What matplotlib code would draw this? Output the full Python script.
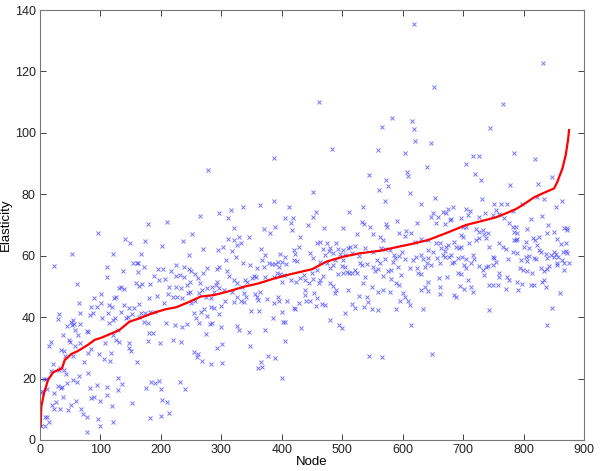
import matplotlib
matplotlib.use("Agg")
import matplotlib.pyplot as plt
import numpy as np

plt.rcParams['font.family'] = ['Liberation Sans', 'DejaVu Sans']

# Blue scatter points (node, elasticity), read region by region
blue_a = [(96,67.5),(53,60.6),(23,56.7),(61,50.7),(111,53.2),(111,56.2),(101,47.4),(90,46.1),(101,44.5),(85,43.4),
          (95,43.2),(82,40.7),(88,41.3),(103,39.8),(64,44.5),(67,41.5),(31,41.0),(29,39.4),(55,39.1),(51,38.5),
          (57,37.8),(53.5,37.4),(45,37.1),(66,37.8),(58,35.8),(77,35.6),(80,35.3),(38,34.1),(63,34.2),(48,32.6),
          (50,31.8),(67,31.5),(58,30.6),(18,32.0),(15,30.7),(35,29.3),(40,29.0),(85,29.5),(79,28.4),(107,31.7),
          (98,28.0),(73,25.4),(106,26.3),(55,27.4),(41,27.4),(21,24.8),(19,22.6),(10.5,19.9),(32.5,23.4),(31,22.8),
          (40,22.8),(43.6,21.5),(45,18.5),(64,20.9),(62,19.0),(55,19.5),(79,21.7),(6,19.8),(3.3,15.8),(1.1,15.2),
          (12,16.5),(29,17.6),(34,16.8),(37,17.2),(23,15.2),(27,12.3),(20,11.4),(22.6,10.0),(33,10.2),(37.5,14.1),
          (52,11.4),(60,12.8),(46,9.8),(68,10.2),(71,8.4),(78,7.6),(82,17.0),(95,17.9),(85,13.6),(89,14.1),
          (99,12.8),(111,14.6),(111,17.4),(7.7,7.6),(12,7.4),(15,6.0),(7.7,4.4),(2.2,4.7),(78,2.5),(96,6.8),(100,4.6)]

blue_b = [(179.2,70.3),(210.1,71.1),(141.2,65.3),(149.5,64.2),(173.7,64.9),(201.3,63.3),(121.3,60.4),(166.6,60.7),
          (153.3,57.5),(160,57.5),(162.1,57.7),(136.8,55.1),(162.7,54.6),(172.6,56.4),(194.7,55.7),(203,55.6),
          (216.7,55.1),(189.2,53.4),(197.4,52.1),(206.8,52.4),(182,50.7),(168.8,50.7),(159.4,51.2),(163.2,50.2),
          (134,49.7),(139.5,49.1),(131.3,49.6),(214,49.7),(225,49.9),(211.2,47.5),(219.5,46.7),(125.7,46.5),
          (123,46.1),(180.9,46.1),(193,47.0),(205.7,44.7),(114.7,44.0),(119.1,43.4),(138.4,44.0),(147.8,43.1),
          (164.4,44.3),(156.1,42.9),(112,41.5),(134,41.8),(142.3,39.6),(145,40.2),(152.2,41.0),(167.1,41.5),
          (174.3,41.3),(182,41.6),(190.8,41.8),(164.4,40.2),(120.2,39.1),(124.6,39.6),(114.7,38.0),(208.5,38.0),
          (223.9,37.5),(178.1,38.2),(172.6,38.3),(121.3,34.2),(128.5,35.8),(125.7,32.4),(131.3,32.0),(117.5,28.4),
          (147.8,31.5),(150.6,29.0),(146.7,30.1),(180.9,35.0),(187.5,34.8),(178.1,32.3),(198.5,31.7),(219.5,32.4),
          (160.5,25.5),(115.8,25.8),(128.5,20.3),(135.1,18.1),(128.5,16.3),(183.7,19.0),(190.8,18.5),(196.3,19.3),
          (200.2,16.5),(175.4,16.8),(152.2,12.0),(119.1,11.2),(201.9,13.0),(209.6,12.3),(182.6,7.1),(200.2,7.9),
          (214,8.7),(120.2,6.0)]

blue_c = [(278.5,87.9),(265.3,73.0),(296.2,73.8),(315.5,74.9),(335.9,75.8),(311,72.2),(321,68.9),(251.5,67.0),
          (236,64.9),(270.2,62.1),(295,61.9),(303.3,63.0),(311,65.3),(321,65.1),(329.2,66.0),(332,64.0),(326.5,63.5),
          (246.5,60.2),(318.2,61.5),(323.7,59.7),(307.2,58.6),(336.4,57.5),(225,57.0),(238.2,56.4),(246.5,55.6),
          (249.3,55.0),(255.9,54.1),(261.4,52.6),(270.2,54.3),(276.9,55.9),(292.3,55.6),(296.2,56.2),(310,55.1),
          (312.7,53.4),(321,52.1),(326.5,51.0),(334.8,49.9),(224.5,53.4),(231.6,53.7),(238.2,53.2),(248.2,51.6),
          (242.7,50.5),(232.7,49.4),(227.2,46.7),(235.5,46.1),(244.9,48.0),(248.2,48.1),(264.7,51.2),(268.6,48.8),
          (275.7,49.4),(285.1,49.9),(290.6,50.5),(293.4,51.6),(263.1,48.0),(282.4,46.1),(287.9,48.3),(296.2,49.4),
          (304.4,48.8),(318.2,48.3),(326.5,46.7),(332,45.4),(337.5,45.0),(321,45.0),(274.1,46.7),(255.9,45.4),
          (250.4,44.7),(305.5,45.4),(300,43.6),(287.9,42.9),(271.3,42.6),(283.5,43.4),(254.8,41.5),(266.9,41.8),
          (257.5,39.6),(296.2,41.0),(276.9,40.4),(281.3,37.8),(285.1,38.0),(235.5,36.9),(242.7,37.8),(263.1,38.0),
          (298.9,36.9),(326.5,37.1),(329.2,35.8),(274.1,34.5),(232.7,32.0),(254.8,28.8),(261.4,28.0),(259.2,26.9),
          (267.5,25.8),(301.7,31.3),(293.4,29.9),(283.5,24.6),(300.6,25.2),(231.1,19.0),(239.3,16.5)]

blue_d = [(386.6,91.7),(387.7,77.8),(364.5,76.5),(412.5,75.7),(405.9,72.2),(418,72.2),(415.8,70.8),(371.2,68.6),
          (388.2,69.5),(381.1,67.3),(416.9,68.4),(443.4,70.0),(430.7,66.2),(346.3,66.2),(366.2,62.1),(428,63.0),
          (372.8,60.2),(419.7,61.7),(422.4,60.5),(396.5,60.5),(404.8,59.7),(348,57.0),(378.3,57.5),(383.8,57.3),
          (389.4,57.3),(393.8,57.8),(400.4,58.1),(407.6,57.3),(396,56.4),(370.1,56.4),(359,55.9),(419.7,58.6),
          (425.2,58.3),(367.3,58.6),(353.5,53.4),(357.4,53.0),(350.7,52.7),(341.9,51.6),(339.7,52.1),(371.7,53.2),
          (386.6,53.2),(392.1,54.5),(397.6,54.1),(403.1,53.7),(415.3,52.1),(423.5,51.6),(430.7,52.7),(436.2,53.7),
          (439,52.1),(444.5,51.2),(400.4,51.6),(364.5,48.3),(356.3,47.4),(359,46.7),(360.7,45.6),(340.8,46.7),
          (337,47.8),(375.6,45.8),(393.8,46.5),(396,45.1),(400.4,41.8),(386.6,44.7),(408.7,45.4),(428,44.7),
          (439,48.9),(437.9,47.2),(447.3,45.1),(440.6,45.3),(422.4,42.6),(419.7,42.9),(361.8,42.0),(349.6,42.0),
          (372.8,35.8),(346.3,35.3),(385.5,39.6),(404.8,38.5),(401.5,38.5),(432.4,36.6),(405.9,32.3),(348,30.6),
          (377.2,27.4),(389.4,26.8),(366.2,25.4),(360.7,23.4),(367.3,23.9),(400.4,20.3)]

blue_e = [(461.6,110.1),(482.5,94.7),(559.8,94.4),(544.9,86.3),(561.4,81.4),(452.2,80.9),(533.8,76.0),(456.6,74.3),
          (511.8,74.1),(452.2,72.5),(532.2,71.1),(536,70.3),(546,69.5),(470.4,69.1),(501.9,68.9),(523.9,67.1),
          (550.4,67.0),(562.5,66.2),(458.8,64.0),(463.2,64.6),(474.3,64.0),(489.7,64.0),(468.8,62.1),(477.6,61.6),
          (479.8,62.4),(493.6,62.1),(500.7,61.9),(510.1,62.4),(512.9,62.9),(521.2,63.2),(537.7,62.6),(551.5,61.3),
          (446.7,60.8),(471.5,60.2),(485.3,60.8),(496.3,60.6),(504.6,60.2),(515.6,60.8),(528.3,60.0),(557,58.6),
          (562.5,57.7),(451.1,59.2),(463.2,58.1),(474.3,57.7),(488.1,58.6),(501.9,58.6),(529.4,57.5),(532.2,57.0),
          (540.5,57.2),(551.5,56.4),(479.8,56.1),(485.3,57.0),(499.1,56.7),(504.6,56.4),(508.5,54.8),(515.6,54.5),
          (521.2,55.4),(523.9,54.3),(457.7,55.4),(449.5,54.3),(468.8,53.4),(452.2,52.3),(463.2,52.1),(462.1,51.0),
          (493.6,54.1),(500.7,54.3),(511.8,54.5),(554.2,55.1),(559.8,55.6),(479.8,51.0),(484.2,50.1),(489.7,48.8),
          (488.1,47.8),(510.1,48.8),(537.7,53.2),(534.9,51.0),(548.7,49.9),(559.8,48.3),(453.3,47.8),(457.7,46.1),
          (528.3,46.9),(541.6,46.7),(543.2,45.0),(466,44.3),(471.5,44.0),(456.6,43.7),(515.6,44.3),(521.2,42.9),
          (536,43.4),(548.7,42.6),(559.8,42.3),(504.6,41.3),(479.8,39.1),(495.2,37.5),(499.1,36.6),(544.9,27.4)]

blue_f = [(618.2,135.6),(651.9,114.8),(582.9,104.9),(616,103.9),(565.8,102.0),(618.8,101.2),(619.9,97.4),(647.4,96.8),
          (603.3,93.6),(640.3,89.0),(607.2,87.3),(608.8,85.9),(571.9,84.6),(575.7,82.7),(612.7,80.3),(654.1,78.9),
          (629.8,76.7),(570.2,77.8),(650.2,74.0),(666.7,74.3),(646.3,72.7),(658.5,72.7),(672.3,73.8),(573,70.3),
          (574.6,69.4),(591.2,71.3),(624.3,70.5),(655.7,70.5),(669.5,70.3),(606.1,68.1),(613.2,67.3),(593.4,67.3),
          (603.3,66.4),(567.5,65.1),(630.9,65.6),(563.6,62.4),(570.2,62.1),(578.5,61.8),(619.9,64.5),(641.9,65.1),
          (655.7,64.0),(661.2,64.2),(672.3,62.9),(585.7,60.2),(587.9,59.4),(593.4,59.9),(598.9,61.3),(603.3,58.8),
          (622.6,59.7),(629.8,60.2),(641.9,61.8),(650.2,61.1),(664,62.4),(669.5,61.5),(570.2,58.8),(584,58.0),
          (617.1,58.6),(633.7,58.8),(641.9,59.1),(657.4,59.4),(666.7,60.2),(581.3,55.3),(592.3,56.4),(611.6,55.9),
          (624.3,55.9),(636.4,56.4),(640.8,57.7),(647.4,56.9),(661.2,57.5),(669.5,59.7),(567.5,53.4),(575.7,55.1),
          (581.3,52.3),(589.5,51.0),(593.4,50.4),(597.8,53.7),(625.4,54.5),(630.9,54.2),(641.9,51.5),(660.1,52.9),
          (673.4,53.2),(567.5,49.0),(578.5,48.3),(629.8,49.0),(636.4,49.9),(641.9,48.6),(661.2,49.9),(662.3,47.5),
          (600.6,47.9),(603.3,46.6),(608.8,45.3),(611.6,43.9),(595,45.2),(588.4,42.5),(633.7,42.5),(614.4,37.4),
          (565.8,27.1),(649.1,28.0)]

blue_g = [(765.5,109.3),(745,101.5),(784.8,93.6),(716.9,92.6),(726.9,92.5),(704.8,89.8),(720.2,86.5),(729.6,84.7),
          (778.1,83.0),(730.7,78.5),(750.6,76.9),(762.7,76.9),(772.1,76.7),(682.7,75.7),(674.5,75.2),(704.8,75.1),
          (711.4,74.4),(736.8,73.8),(754.4,74.9),(759.9,73.6),(782,74.4),(678.3,71.6),(680,71.9),(696.5,72.2),
          (707.5,73.3),(726.9,72.7),(748.9,73.1),(768.2,72.2),(776.5,70.6),(782,69.5),(784.8,67.8),(699.3,69.5),
          (704.8,69.5),(721.3,68.7),(726.9,67.8),(733.5,68.4),(735.1,67.1),(740.6,67.5),(737.9,65.7),(721.3,65.1),
          (726.9,65.7),(696.5,66.8),(699.3,66.2),(685.5,64.6),(674.5,63.5),(688.2,63.0),(692.7,62.6),(696.5,62.7),
          (710.3,64.0),(743.4,62.7),(759.9,64.0),(766.6,63.0),(771,62.2),(782,61.3),(784.8,65.1),(680,60.3),
          (676.1,59.7),(691,59.2),(698.2,59.7),(704.8,58.8),(715.8,60.3),(718.6,58.8),(748.9,59.7),(751.7,59.2),
          (754.4,58.1),(748.9,57.0),(740.6,56.5),(726.9,56.5),(732.4,55.4),(737.9,56.2),(773.7,58.8),(681.6,57.5),
          (685.5,57.9),(702,57.0),(713.1,57.5),(704.8,55.9),(691,54.5),(696.5,54.1),(759.9,54.3),(735.1,53.7),
          (759.9,53.2),(772.1,53.2),(776.5,52.1),(707.5,52.1),(743.4,50.5),(748.9,50.5),(757.2,50.5),(771,49.1),
          (713.1,49.9),(715.8,48.3),(702,49.1),(694.9,50.2),(685.5,47.2),(688.2,46.7),(743.4,42.3)]

blue_h = [(832.8,122.6),(818.5,91.5),(846.6,85.7),(824.6,83.2),(863.2,77.9),(854.3,76.0),(821.8,79.2),(833.9,78.6),
          (798.1,76.8),(813,71.9),(830.1,72.9),(841.1,70.0),(850.5,67.6),(805.3,68.7),(787.1,69.2),(788.7,67.5),
          (867,68.9),(871.4,68.4),(872.5,69.1),(816.3,65.9),(825.7,66.2),(839.5,67.3),(856,65.6),(861.5,63.8),
          (869.8,64.0),(787.1,65.1),(789.8,65.3),(800.8,62.9),(809.1,62.4),(822.9,63.5),(825.7,61.8),(828.4,61.3),
          (809.1,59.9),(817.4,59.1),(820.1,58.9),(803.6,59.7),(789.8,60.8),(795.3,58.6),(806.4,58.4),(836.7,60.4),
          (845,60.2),(850.5,61.3),(853.2,60.5),(865.9,61.3),(869.8,61.6),(872.5,60.8),(875.3,57.7),(857.1,59.7),
          (850.5,59.7),(839.5,59.1),(794.2,55.9),(799.7,55.3),(806.4,55.0),(814.6,54.5),(828.4,55.9),(839.5,55.6),
          (842.2,56.6),(856,57.5),(854.9,56.9),(864.3,58.6),(867,57.7),(867,55.3),(833.9,55.0),(789.8,51.5),
          (798.1,50.7),(811.9,50.5),(817.4,50.5),(833.9,52.1),(836.7,49.7),(859.9,47.7),(847.7,42.9),(838.3,37.4),
          (790.9,48.8),(831.2,51.5),(818.5,65.1),(803.6,64.6)]

# Red sorted curve (node, elasticity)
red_x = [0, 1.1, 2.2, 6.6, 13.2, 21.5, 29.8, 36.4, 40.8, 51.9, 62.9, 79.4, 90.5, 101.5, 112.5, 131.3, 147.8,
         164.4, 186.4, 208.5, 225, 243.8, 265.8, 287.9, 310, 337.5, 361.8, 389.4, 416.9, 450, 474.3, 501.9,
         529.4, 562.5, 592.3, 614.4, 642, 675, 704.8, 726.9, 754.4, 771, 787.5, 800.8, 817.4, 833.9, 850.5,
         856, 864.3, 869.8, 873.6, 875.3]
red_y = [4.0, 4.4, 10.9, 15.2, 19.5, 22.0, 22.8, 23.3, 26.0, 28.0, 29.0, 31.0, 32.6, 33.3, 34.2, 35.8, 38.5,
         39.6, 41.3, 42.6, 43.2, 44.7, 46.7, 47.2, 48.3, 49.9, 51.0, 52.7, 54.1, 55.6, 58.1, 59.7,
         60.8, 61.6, 62.9, 63.8, 65.1, 67.6, 70.0, 71.1, 72.5, 73.8, 75.2, 76.8, 79.0, 80.5, 81.9,
         84.1, 88.4, 92.8, 97.7, 100.9]

x_ticks = [0, 100, 200, 300, 400, 500, 600, 700, 800, 900]
y_ticks = [0, 20, 40, 60, 80, 100, 120, 140]

fig = plt.figure(figsize=(6.0, 4.71), dpi=100)
ax = fig.add_axes([40/600, 31/471, 544/600, 430/471])

pts = np.array(blue_a + blue_b + blue_c + blue_d + blue_e + blue_f + blue_g + blue_h)
ax.plot(pts[:, 0], pts[:, 1], linestyle='none', marker='x', color='#3a3aff',
        markersize=3.0, markeredgewidth=0.7, alpha=0.7)
ax.plot(red_x, red_y, color='#ff0000', linewidth=1.6)

ax.set_xlim(0, 900)
ax.set_ylim(0, 140)
ax.set_xticks(x_ticks)
ax.set_yticks(y_ticks)
ax.tick_params(direction='in', top=True, right=True, length=4, width=0.6,
               labelsize=9, colors='#222222', pad=3)
for s in ax.spines.values():
    s.set_color('#777777')
    s.set_linewidth(0.8)
ax.set_xlabel('Node', fontsize=9.5, labelpad=0)
ax.set_ylabel('Elasticity', fontsize=9.5)
ax.yaxis.set_label_coords(-0.052, 0.5)

fig.savefig('out.png', dpi=100)
